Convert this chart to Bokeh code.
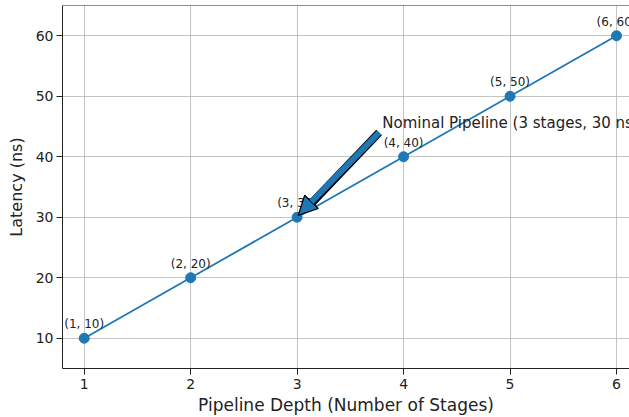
from bokeh.plotting import figure
from bokeh.models import ColumnDataSource, Arrow, NormalHead, Range1d, FixedTicker, Label, Span
from bokeh.core.properties import value
from bokeh.embed import file_html
from bokeh.resources import INLINE

# data
stages = [1, 2, 3, 4, 5, 6]
latency = [10, 20, 30, 40, 50, 60]
point_labels = [f"({s}, {l})" for s, l in zip(stages, latency)]
x_ticks = [1, 2, 3, 4, 5, 6]
y_ticks = [10, 20, 30, 40, 50, 60]

note_text = "Nominal Pipeline (3 stages, 30 ns)"
note_target = (3, 30)
note_text_pos = (3.8, 45)
note_arrow_start = (3.77, 44)

BLUE = "#1f77b4"
FONT = "DejaVu Sans"

X_MIN, X_MAX = 0.796, 6.122
Y_MIN, Y_MAX = 5.0, 65.0

p = figure(width=629, height=417, output_backend="svg", toolbar_location=None,
           x_range=Range1d(X_MIN, X_MAX), y_range=Range1d(Y_MIN, Y_MAX),
           min_border_left=62, min_border_right=0, min_border_top=5, min_border_bottom=48)

p.background_fill_color = "white"
p.border_fill_color = "white"
p.outline_line_color = None
# top spine
p.add_layout(Span(location=Y_MAX, dimension="width", line_color="#222222", line_width=1))

src = ColumnDataSource(dict(x=stages, y=latency, lab=point_labels))
p.line("x", "y", source=src, line_color=BLUE, line_width=1.8)
p.scatter("x", "y", source=src, size=10, fill_color=BLUE, line_color=BLUE)
p.text("x", "y", text="lab", source=src, text_font=value(FONT), text_font_size="12px",
       text_color="#222222", text_align="center", text_baseline="bottom", y_offset=-7)

# annotation text
p.add_layout(Label(x=note_text_pos[0], y=note_text_pos[1], text=note_text,
                   text_font=FONT, text_font_size="15px", text_color="#222222",
                   text_baseline="bottom", x_offset=0, y_offset=-5))

# arrow: black outline shaft, blue shaft, head
p.add_layout(Arrow(end=None, x_start=note_arrow_start[0], y_start=note_arrow_start[1],
                   x_end=note_target[0] + 0.08, y_end=note_target[1] + 1.3,
                   line_color="black", line_width=8))
p.add_layout(Arrow(end=NormalHead(size=19, fill_color=BLUE, line_color="black", line_width=1.2),
                   x_start=note_arrow_start[0], y_start=note_arrow_start[1],
                   x_end=note_target[0] + 0.01, y_end=note_target[1] + 0.3,
                   line_color=BLUE, line_width=6))

for ax in (p.xaxis[0], p.yaxis[0]):
    ax.axis_line_color = "#222222"
    ax.axis_line_width = 1
    ax.major_tick_line_color = "#222222"
    ax.major_tick_out = 6
    ax.major_tick_in = 0
    ax.minor_tick_line_color = None
    ax.major_label_text_font = FONT
    ax.major_label_text_font_size = "14px"
    ax.major_label_text_color = "#222222"
    ax.major_label_standoff = 4
    ax.axis_label_text_font = FONT
    ax.axis_label_text_font_size = "16px"
    ax.axis_label_text_font_style = "normal"
    ax.axis_label_text_color = "#222222"
    ax.axis_label_standoff = 4
p.xaxis[0].axis_label_text_font_size = "17px"
p.xaxis[0].axis_label_standoff = 3
p.yaxis[0].major_label_standoff = 3
p.yaxis[0].axis_label_standoff = 7

p.xaxis.ticker = FixedTicker(ticks=x_ticks)
p.yaxis.ticker = FixedTicker(ticks=y_ticks)
p.xaxis.axis_label = "Pipeline Depth (Number of Stages)"
p.yaxis.axis_label = "Latency (ns)"

p.grid.grid_line_color = "#b0b0b0"
p.grid.grid_line_alpha = 0.75
p.grid.grid_line_width = 1
p.xgrid.ticker = FixedTicker(ticks=x_ticks)
p.ygrid.ticker = FixedTicker(ticks=y_ticks)

open("out.html", "w").write(file_html(p, INLINE))
